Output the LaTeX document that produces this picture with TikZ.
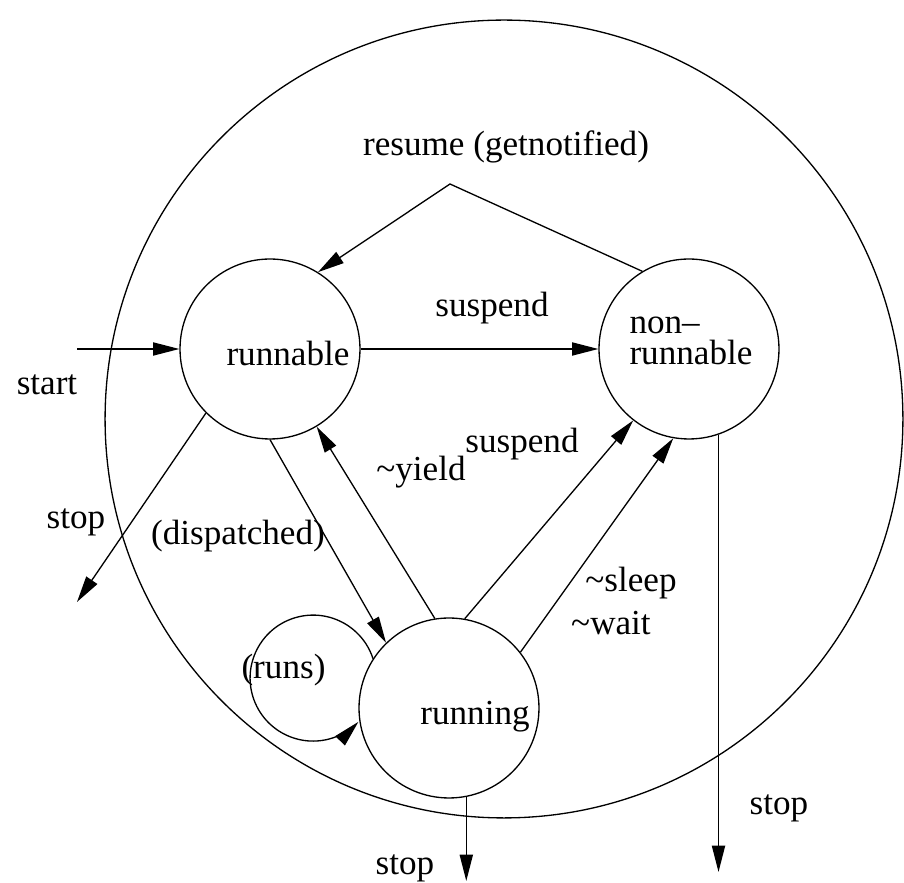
\documentclass[tikz,border=0pt]{standalone}
\usepackage{fontspec}
\setmainfont{Liberation Serif}
\usetikzlibrary{arrows.meta}
\begin{document}
\begin{tikzpicture}[x=0.02cm, y=0.02cm, font=\fontsize{20}{17.6}\selectfont,
      line width=0.75pt, >={Triangle[length=15pt,width=7.5pt]},
      state/.style={draw, circle, minimum size=3.6cm, inner sep=0pt},
      lbl/.style={inner sep=0pt, align=left}]
    \useasboundingbox (0,0) rectangle (904,883);
    % outer boundary
    \draw (504,464) circle[radius=7.98cm];
    % states
    \node[state] (runnable) at (270,534) {};
    \node[state] (nonrun)   at (689,534) {};
    \node[state] (running)  at (449,175) {};
    \node[lbl] (runnable-t) at (288,529.5) {runnable};
    \node[lbl] (nonrun-t)   at (691,542) {non–\\runnable};
    \node[lbl] (running-t)  at (475,166.5) {running};
    % free ends
    \coordinate (start) at (77,534);
    \coordinate (stop1) at (77,281);
    \coordinate (stop2) at (466,2);
    \coordinate (stop3) at (718,11);
    \coordinate (apex)  at (450,699);
    % transitions
    \draw[->] (start) -- (runnable.180);
    \draw[->] (runnable.225) -- (stop1);
    \draw[->] (runnable.0) -- (nonrun.180);
    \draw[->] (nonrun.121) -- (apex) -- (runnable.58);
    \draw[->] (runnable.270) -- (running.134);
    \draw[->] (running.99) -- (runnable.301);
    \draw[->] (running.80) -- (nonrun.232);
    \draw[->] (running.38) -- (nonrun.260);
    \draw[->] (running.147) arc[start angle=18, end angle=316, radius=1.26cm];
    \draw[->] (running.281) -- (running.281 |- stop2);
    \draw[->] (nonrun.289) -- (nonrun.289 |- stop3);
    % labels
    \node[lbl] (l-start)  at (47,498) {start};
    \node[lbl] (l-stop1)  at (76,360.5) {stop};
    \node[lbl] (l-disp)   at (238,347) {(dispatched)};
    \node[lbl] (l-susp1)  at (492,574.5) {suspend};
    \node[lbl] (l-resume) at (506,736.5) {resume (getnotified)};
    \node[lbl] (l-yield)  at (421,410.5) {\textasciitilde yield};
    \node[lbl] (l-susp2)  at (522,439) {suspend};
    \node[lbl] (l-sleep)  at (631,299.5) {\textasciitilde sleep};
    \node[lbl] (l-wait)   at (611,260) {\textasciitilde wait};
    \node[lbl] (l-runs)   at (283.5,213) {(runs)};
    \node[lbl] (l-stop2)  at (405,14.5) {stop};
    \node[lbl] (l-stop3)  at (779,74.5) {stop};
  \end{tikzpicture}
\end{document}
